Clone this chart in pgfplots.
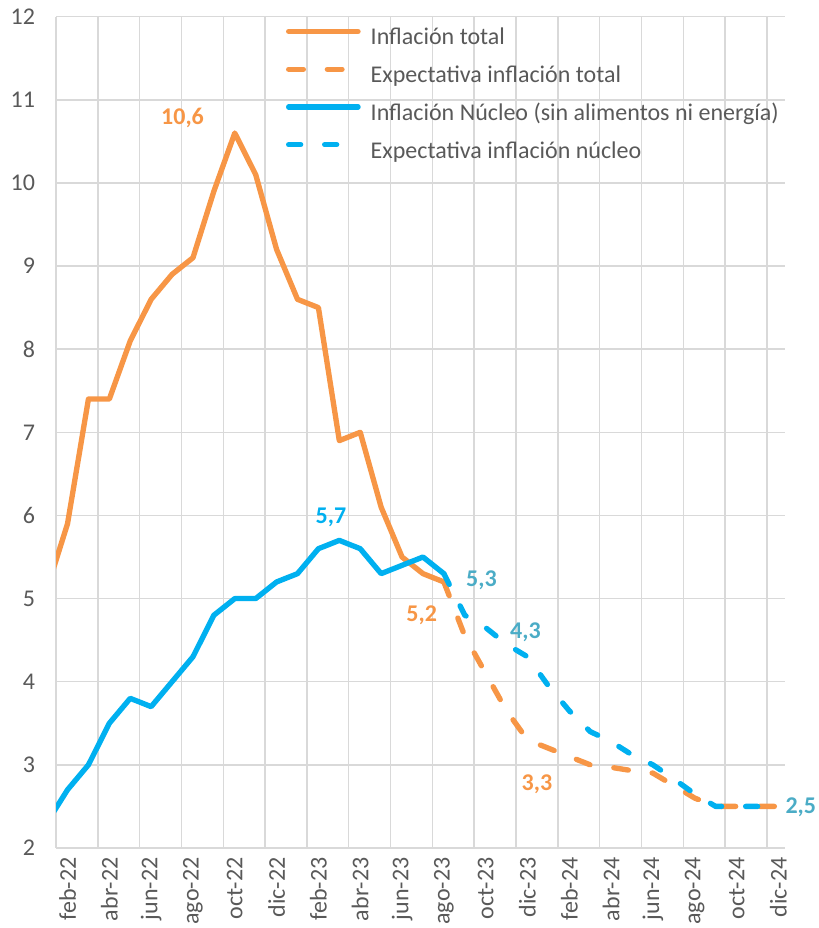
\documentclass[border=0pt]{standalone}
\usepackage{fontspec}
\setmainfont{Carlito}
\usepackage{pgfplots}
\pgfplotsset{compat=1.18}

\definecolor{naranja}{HTML}{F79646}
\definecolor{azul}{HTML}{00B0F0}
\definecolor{turquesa}{HTML}{4BACC6}
\definecolor{gris}{HTML}{595959}
\definecolor{rejilla}{HTML}{D9D9D9}

\begin{document}
\begin{tikzpicture}
\begin{axis}[
    scale only axis,
    width=546.75pt, height=623.25pt,
    xmin=0.45, xmax=35.33,
    ymin=2, ymax=12,
    ytick={2,3,...,12},
    xtick={1,3,...,35},
    xticklabels={feb-22,abr-22,jun-22,ago-22,oct-22,dic-22,feb-23,abr-23,jun-23,ago-23,oct-23,dic-23,feb-24,abr-24,jun-24,ago-24,oct-24,dic-24},
    minor xtick={0.45,2.45,4.45,6.45,8.45,10.45,12.45,14.45,16.45,18.45,20.45,22.45,24.45,26.45,28.45,30.45,32.45,34.45},
    xminorgrids=true, xmajorgrids=false, ymajorgrids=true,
    grid style={rejilla, line width=1.1pt},
    minor grid style={rejilla, line width=1.1pt},
    axis line style={draw=none},
    major tick length=0pt, minor tick length=0pt,
    tick style={draw=none},
    /pgf/number format/assume math mode=true,
    tick label style={font=\fontsize{18}{22}\selectfont, text=gris},
    yticklabel style={anchor=east, inner sep=0pt, xshift=-15.5pt},
    xticklabel style={rotate=90, anchor=east, inner sep=7pt},
    clip mode=individual,
    legend cell align=left,
    legend style={at={(rel axis cs:0.315,1)}, yshift=-8pt, anchor=north west,
        draw=none, fill=none, inner sep=0pt, row sep=11.3pt,
        font=\fontsize{18}{22}\selectfont, text=gris,
        nodes={inner sep=0pt, text height=13pt, text depth=4pt},
        /tikz/every odd column/.append style={column sep=7.5pt}},
    legend image code/.code={\draw[#1] (0pt,5.6pt) -- (52pt,5.6pt);},
    every axis plot/.append style={line width=4pt, line join=round, line cap=round},
]

% Inflación total
\addplot[naranja] coordinates {
    (0,5.1) (1,5.9) (2,7.4) (3,7.4) (4,8.1) (5,8.6) (6,8.9) (7,9.1)
    (8,9.9) (9,10.6) (10,10.1) (11,9.2) (12,8.6) (13,8.5) (14,6.9)
    (15,7.0) (16,6.1) (17,5.5) (18,5.3) (19,5.2)
};
\addlegendentry{Inflación total}

% Expectativa inflación total
\addplot[naranja, dash pattern=on 11pt off 18pt] coordinates {
    (19,5.2) (20,4.55) (21,4.1) (22,3.65) (23,3.3) (24,3.2) (25,3.1)
    (26,3.0) (27,2.97) (28,2.93) (29,2.9) (30,2.75) (31,2.6) (32,2.5)
    (33,2.5) (34,2.5) (35,2.5)
};
\addlegendentry{Expectativa inflación total}

% Inflación núcleo
\addplot[azul] coordinates {
    (0,2.3) (1,2.7) (2,3.0) (3,3.5) (4,3.8) (5,3.7) (6,4.0) (7,4.3)
    (8,4.8) (9,5.0) (10,5.0) (11,5.2) (12,5.3) (13,5.6) (14,5.7)
    (15,5.6) (16,5.3) (17,5.4) (18,5.5) (19,5.3)
};
\addlegendentry{Inflación Núcleo (sin alimentos ni energía)}

% Expectativa inflación núcleo
\addplot[azul, dash pattern=on 9pt off 18pt] coordinates {
    (19,5.3) (20,4.8) (21,4.65) (22,4.45) (23,4.3) (24,3.95) (25,3.65)
    (26,3.4) (27,3.28) (28,3.12) (29,3.0) (30,2.83) (31,2.65) (32,2.5)
    (33,2.5) (34,2.5) (35,2.5)
};
\addlegendentry{Expectativa inflación núcleo}

\begin{scope}[font=\fontsize{18}{22}\selectfont\bfseries]
\node[text=naranja] at (axis cs:6.5,10.78) {10,6};
\node[text=azul] at (axis cs:13.6,5.98) {5,7};
\node[text=naranja] at (axis cs:17.94,4.80) {5,2};
\node[text=turquesa] at (axis cs:20.8,5.22) {5,3};
\node[text=turquesa] at (axis cs:22.9,4.6) {4,3};
\node[text=naranja] at (axis cs:23.45,2.77) {3,3};
\node[text=turquesa] at (axis cs:36.07,2.49) {2,5};
\end{scope}

\coordinate (sw) at (rel axis cs:0,0);
\coordinate (ne) at (rel axis cs:1,1);
\end{axis}
\pgfresetboundingbox
\path ([shift={(-42pt,-60pt)}]sw) rectangle ([shift={(24.75pt,12.5pt)}]ne);
\end{tikzpicture}
\end{document}
